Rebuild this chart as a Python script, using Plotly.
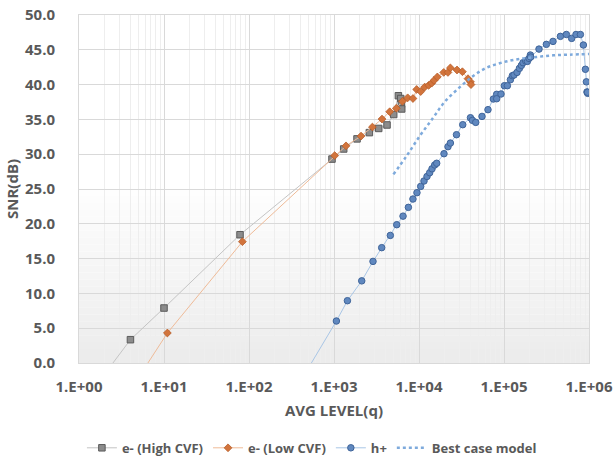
import plotly.graph_objects as go

# ---- data ----
high_x = [2.0, 4.03, 10, 78.4, 947, 1300, 1866, 2606, 3357, 4205, 5040, 5724, 6094, 6206, 6257]
high_y = [-1.6, 3.35, 7.9, 18.43, 29.3, 30.75, 32.2, 33.1, 33.7, 34.2, 35.7, 38.4, 38.0, 37.2, 36.5]

low_x = [5, 10.96, 83.6, 1019, 1384, 2080, 2831, 3672, 4522, 5416, 6380, 7360, 8490, 9390, 10470,
         11670, 13000, 14100, 15000, 16450, 19540, 21900, 23400, 28000, 32400, 37700, 40300, 40900]
low_y = [-2.1, 4.31, 17.43, 29.8, 31.2, 32.6, 33.9, 35.05, 36.1, 36.6, 37.6, 38.1, 38.0, 39.3, 39.0,
         39.65, 39.9, 40.2, 40.6, 41.1, 41.75, 41.75, 42.4, 42.1, 41.85, 40.85, 40.4, 40.0]

hp_x = [400, 1067, 1438, 2120, 2877, 3640, 4600, 5470, 6490, 7500, 8490, 9460, 10470, 11450, 12420,
        13360, 14220, 15300, 16150, 19680, 21930, 23400, 27600, 32700, 40300, 42500, 46500, 55100,
        64800, 75000, 82000, 82000, 92200, 101000, 109600, 118900, 125500, 131000, 142300, 151700,
        160200, 167400, 180000, 188300, 196800, 204400, 206000, 258000, 315000, 377000, 461000,
        542000, 625000, 703000, 792000, 859000, 907000, 932000, 947000, 966000, 960000]
hp_y = [-2.7, 6.03, 8.95, 11.8, 14.6, 16.57, 18.33, 19.87, 21.1, 22.36, 23.56, 24.47, 25.37, 26.15, 26.8,
        27.34, 27.9, 28.45, 28.7, 30.07, 31.08, 31.6, 32.8, 34.24, 35.24, 34.86, 34.57, 35.43,
        36.4, 37.93, 38.6, 37.97, 38.65, 39.84, 39.84, 40.7, 41.28, 41.38, 41.75, 42.33,
        42.76, 43.15, 43.39, 43.33, 43.76, 44.25, 43.96, 45.1, 45.78, 46.21, 46.93,
        47.2, 46.64, 47.2, 47.2, 45.69, 42.2, 40.4, 38.94, 38.74, 38.9]

model_x = [5000, 7100, 10200, 14600, 20000, 30000, 43000, 62000, 97000, 153000, 240000, 377000, 590000, 1000000]
model_y = [27.1, 29.7, 32.6, 35.2, 37.5, 39.6, 41.2, 42.4, 43.2, 43.7, 43.96, 44.2, 44.3, 44.4]

x_tick_vals = [1, 10, 100, 1000, 10000, 100000, 1000000]
x_tick_text = ["1.E+00", "1.E+01", "1.E+02", "1.E+03", "1.E+04", "1.E+05", "1.E+06"]

TXT = "#595959"
FONT = "Open Sans"

fig = go.Figure()

fig.add_trace(go.Scatter(
    x=high_x, y=high_y, name="e- (High CVF)", mode="lines+markers",
    line=dict(color="#c4c4c4", width=1),
    marker=dict(symbol="square", size=6.5, color="#8c8c8c", line=dict(color="#5a5a5a", width=1)),
))
fig.add_trace(go.Scatter(
    x=low_x, y=low_y, name="e- (Low CVF)", mode="lines+markers",
    line=dict(color="#efbb98", width=1),
    marker=dict(symbol="diamond", size=6, color="#d2743c", line=dict(color="#b65d28", width=0.8)),
))
fig.add_trace(go.Scatter(
    x=hp_x, y=hp_y, name="h+", mode="lines+markers",
    line=dict(color="#a9c6e6", width=1),
    marker=dict(symbol="circle", size=6.5, color="#6088bf", line=dict(color="#3f6499", width=1)),
))
fig.add_trace(go.Scatter(
    x=model_x, y=model_y, name="Best case model", mode="lines",
    line=dict(color="#7eaadc", width=2.5, dash="dot", shape="spline"),
))

# subtle gradient in the lower half of the plot area
nb = 25
for i in range(nb):
    g = int(236 + (255 - 236) * i / nb)
    fig.add_shape(type="rect", xref="paper", yref="y", x0=0, x1=1,
                  y0=i * 25 / nb, y1=(i + 1) * 25 / nb,
                  fillcolor=f"rgb({g},{g},{g})", line=dict(width=0), layer="below")

minor_vals = [m * 10 ** d for d in range(6) for m in range(2, 10)]

fig.update_xaxes(
    type="log", range=[0, 6], automargin=False,
    tickvals=x_tick_vals, ticktext=x_tick_text, ticklabelstandoff=10,
    tickfont=dict(family=FONT, size=15, color=TXT, weight="bold"),
    showgrid=True, gridcolor="#d9d9d9", gridwidth=1,
    minor=dict(tickvals=minor_vals, showgrid=True, gridcolor="#eeeeee", gridwidth=1, ticks=""),
    showline=True, linecolor="#d9d9d9", linewidth=1, mirror=True,
    zeroline=False, ticks="",
    title=dict(text="AVG LEVEL(q)", font=dict(family=FONT, size=15, color=TXT, weight="bold"), standoff=10),
)
fig.update_yaxes(
    range=[0, 50], dtick=5, tickformat=".1f", automargin=False, ticklabelstandoff=20,
    tickfont=dict(family=FONT, size=15, color=TXT, weight="bold"),
    showgrid=True, gridcolor="#d9d9d9", gridwidth=1,
    showline=True, linecolor="#d9d9d9", linewidth=1, mirror=True,
    zeroline=False, ticks="",
    title=dict(text="SNR(dB)", font=dict(family=FONT, size=15, color=TXT, weight="bold"), standoff=2),
)

fig.update_layout(
    width=614, height=457,
    margin=dict(l=79, r=25, t=15, b=94),
    paper_bgcolor="white", plot_bgcolor="white",
    font=dict(family=FONT, color=TXT),
    legend=dict(orientation="h", xref="container", yref="container",
                x=0.508, xanchor="center", y=0.02, yanchor="middle",
                font=dict(family=FONT, size=13, color=TXT, weight="bold"),
                itemwidth=30, tracegroupgap=0, bgcolor="rgba(0,0,0,0)"),
    showlegend=True,
)

fig.write_html("out.html")
